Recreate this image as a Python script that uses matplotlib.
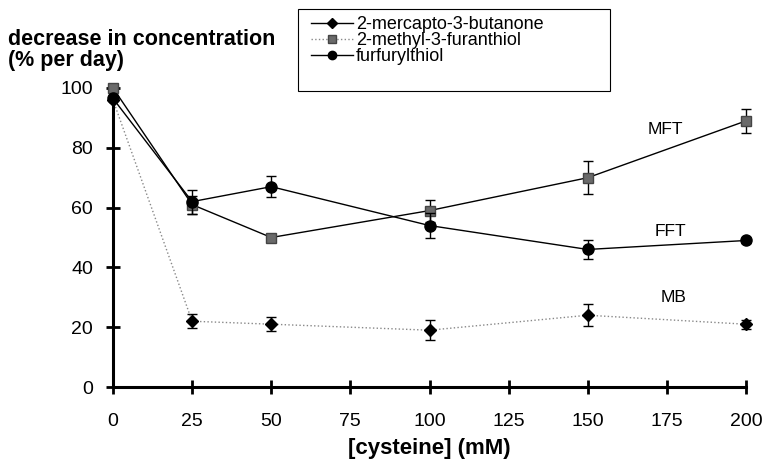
import matplotlib.pyplot as plt
from matplotlib.patches import Rectangle

plt.rcParams['font.family'] = ['Liberation Sans', 'DejaVu Sans']

# cysteine concentration (mM)
cysteine = [0, 25, 50, 100, 150, 200]

# decrease in concentration (% per day) and error bars
mb = [96, 22, 21, 19, 24, 21]
mb_err = [0, 2.4, 2.3, 3.3, 3.6, 1.5]
mft = [100, 61, 50, 59, 70, 89]
mft_err = [0, 3, 1, 3.7, 5.5, 4]
fft = [96.5, 62, 67, 54, 46, 49]
fft_err = [0, 4, 3.5, 4.3, 3.3, 0.8]

legend_labels = ['2-mercapto-3-butanone', '2-methyl-3-furanthiol', 'furfurylthiol']
curve_names = ['MB', 'MFT', 'FFT']
label_pos = [(177, 30), (174.5, 86), (176, 52)]

W, H = 767, 462
fig = plt.figure(figsize=(W / 100, H / 100), dpi=100)
ax = fig.add_axes([113 / W, 1 - 387 / H, (746 - 113) / W, (387 - 88) / H])

eb = dict(capsize=3.5, elinewidth=1, capthick=1, ecolor='black', clip_on=False)

ax.errorbar(cysteine, mb, yerr=mb_err, color='#888888', ls=':', lw=1,
            marker='D', ms=6, mfc='black', mec='black', zorder=3, **eb)
ax.errorbar(cysteine, mft, yerr=mft_err, color='black', ls='-', lw=1,
            marker='s', ms=6.5, mfc='#6a6a6a', mec='#444444', zorder=3, **eb)
ax.errorbar(cysteine, fft, yerr=fft_err, color='black', ls='-', lw=1,
            marker='o', ms=8, mfc='black', mec='black', zorder=4, **eb)

for name, (px, py) in zip(curve_names, label_pos):
    ax.text(px, py, name, fontsize=12.5, ha='center', va='center')

ax.set_xlim(0, 200)
ax.set_ylim(0, 100)
ax.set_xticks(range(0, 201, 25))
ax.set_yticks(range(0, 101, 20))
for s in ['top', 'right']:
    ax.spines[s].set_visible(False)
for s in ['left', 'bottom']:
    ax.spines[s].set_linewidth(2.2)
ax.tick_params(axis='both', direction='inout', length=9.4, width=2, labelsize=14)
ax.tick_params(axis='y', pad=9.7)
ax.tick_params(axis='x', pad=14)

ax.set_xlabel('[cysteine] (mM)', fontsize=16, fontweight='bold', labelpad=6)
fig.text(8 / W, 1 - 45 / H, 'decrease in concentration', fontsize=15.5,
         fontweight='bold', ha='left', va='baseline')
fig.text(8 / W, 1 - 66 / H, '(% per day)', fontsize=15.5,
         fontweight='bold', ha='left', va='baseline')

# legend (entries as drawn in the original)
h1, = ax.plot([], [], color='black', lw=1, marker='D', ms=5, mfc='black')
h2, = ax.plot([], [], color='#888888', ls=':', lw=1, marker='s', ms=6,
              mfc='#6a6a6a', mec='#444444')
h3, = ax.plot([], [], color='black', lw=1, marker='o', ms=6, mfc='black')
fig.legend([h1, h2, h3], legend_labels, loc='upper left',
           bbox_to_anchor=(311 / W, 1 - 16 / H), frameon=False, fontsize=13,
           borderpad=0, borderaxespad=0, handlelength=2.3, handletextpad=0.2,
           labelspacing=-0.05)
fig.add_artist(Rectangle((298 / W, 1 - 91 / H), (610 - 298) / W, (91 - 9) / H,
                         transform=fig.transFigure, fill=False, ec='black', lw=0.8))

fig.savefig('out.png', dpi=100)
